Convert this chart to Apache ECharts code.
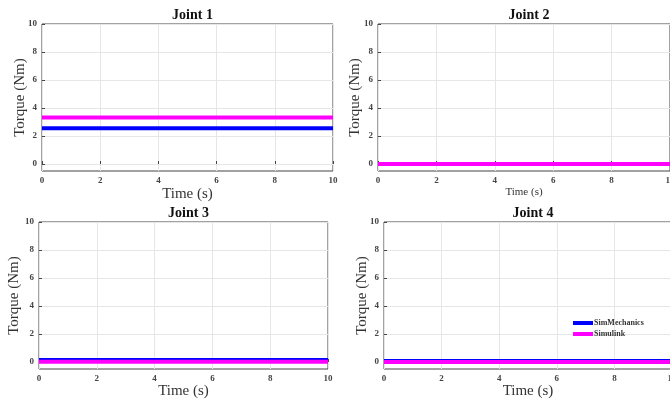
<!DOCTYPE html>
<html>
<head>
<meta charset="utf-8">
<style>
  html, body { margin: 0; padding: 0; background: #fff; }
  #chart { width: 670px; height: 403px; }
</style>
<script src="https://cdn.jsdelivr.net/npm/echarts@6/dist/echarts.min.js"></script>
</head>
<body>
<div id="chart"></div>
<script>
// joint torque comparison, SimMechanics vs Simulink (constant over 10 s)
const TIME = [0, 10];
const JOINTS = ["Joint 1", "Joint 2", "Joint 3", "Joint 4"];
const SIMMECH = [[2.55, 2.55], [0, 0], [0.15, 0.15], [0.08, 0.08]];
const SIMULINK = [[3.32, 3.32], [0, 0], [0.02, 0.02], [0, 0]];
const X_TICKS = [0, 2, 4, 6, 8, 10];
const Y_TICKS = [0, 2, 4, 6, 8, 10];
const SERIES_NAMES = ["SimMechanics", "Simulink"];

const COL = { mech: "#0000ff", link: "#ff00ff" };
const SERIF = "Liberation Serif, DejaVu Serif, serif";

const GRIDS = [
  { left: 42, top: 24, width: 291, height: 147, xNameSize: 15, xGap: 16, yGap: 14 },
  { left: 378, top: 24, width: 292, height: 147, xNameSize: 11, xGap: 16, yGap: 15 },
  { left: 39, top: 222, width: 289, height: 147, xNameSize: 15, xGap: 15, yGap: 17 },
  { left: 384, top: 222, width: 288, height: 147, xNameSize: 15, xGap: 15, yGap: 14 },
];

const grid = [], xAxis = [], yAxis = [], series = [], title = [];

GRIDS.forEach((g, i) => {
  grid.push({ left: g.left, top: g.top, width: g.width, height: g.height,
    outerBoundsMode: "none", containLabel: false,
    show: true, borderColor: "#444", borderWidth: 1, backgroundColor: "#fff" });
  title.push({ text: JOINTS[i], left: g.left + g.width / 2, top: g.top - 21, textAlign: "center",
    textStyle: { fontFamily: SERIF, fontSize: 14, fontWeight: "bold", color: "#111" } });
  xAxis.push({
    gridIndex: i, type: "value", min: 0, max: 10, interval: 2,
    name: "Time (s)", nameLocation: "middle", nameGap: g.xGap,
    nameTextStyle: { fontFamily: SERIF, fontSize: g.xNameSize, color: "#333" },
    axisLine: { show: false },
    axisTick: { show: true, inside: true, length: 3, lineStyle: { color: "#444" },
      customValues: X_TICKS },
    axisLabel: { fontFamily: SERIF, fontSize: 9, fontWeight: "bold", color: "#444", margin: 5,
      customValues: X_TICKS },
    splitLine: { show: true, lineStyle: { color: "#e6e6e6", width: 1 } },
  });
  yAxis.push({
    gridIndex: i, type: "value", min: -0.5, max: 10,
    name: "Torque (Nm)", nameLocation: "middle", nameGap: g.yGap, nameMoveOverlap: false,
    nameTextStyle: { fontFamily: SERIF, fontSize: 15, color: "#333" },
    axisLine: { show: false },
    axisTick: { show: true, inside: true, length: 3, lineStyle: { color: "#444" },
      customValues: Y_TICKS },
    axisLabel: { fontFamily: SERIF, fontSize: 9, fontWeight: "bold", color: "#444", margin: 5,
      customValues: Y_TICKS },
    splitLine: { show: true, lineStyle: { color: "#e6e6e6", width: 1 } },
  });
  series.push({
    name: SERIES_NAMES[0], type: "line", xAxisIndex: i, yAxisIndex: i, symbol: "none",
    data: TIME.map((t, k) => [t, SIMMECH[i][k]]),
    lineStyle: { color: COL.mech, width: 4 }, itemStyle: { color: COL.mech }, z: 3,
  });
  series.push({
    name: SERIES_NAMES[1], type: "line", xAxisIndex: i, yAxisIndex: i, symbol: "none",
    data: TIME.map((t, k) => [t, SIMULINK[i][k]]),
    lineStyle: { color: COL.link, width: 4 }, itemStyle: { color: COL.link }, z: 4,
  });
});

const chart = echarts.init(document.getElementById("chart"), null, { renderer: "canvas" });
chart.setOption({
  animation: false,
  title,
  grid, xAxis, yAxis, series,
  legend: {
    data: SERIES_NAMES, orient: "vertical", left: 573, top: 319, padding: 0, itemGap: 3,
    itemWidth: 20, itemHeight: 4, icon: "rect",
    textStyle: { fontFamily: SERIF, fontSize: 8, fontWeight: "bold", color: "#333", padding: [0, 0, 0, -4] },
  },
});
</script>
</body>
</html>
